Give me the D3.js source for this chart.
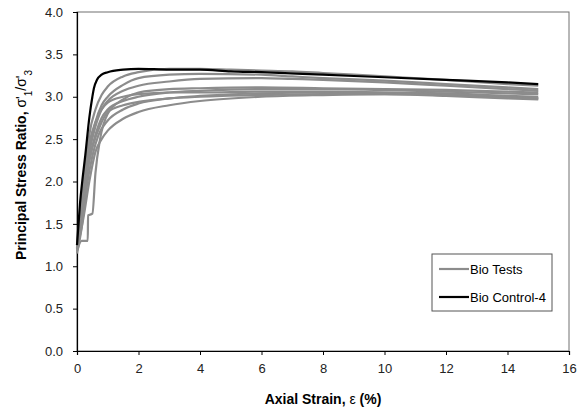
<!DOCTYPE html>
<head>
  <meta charset="utf-8">
  <title>Principal Stress Ratio</title>
  <script src="https://cdn.jsdelivr.net/npm/d3@7"></script>
  <style>
  body { margin: 0; background: #fff; }
  text { font-family: "Liberation Sans", Arial, sans-serif; fill: #000; }
  .tick text { font-size: 13px; }
  .axis-title { font-size: 14px; font-weight: bold; }
  .legend text { font-size: 13px; }
  </style>
</head>
<body>
<script>
// strain (%) vs stress ratio
var bioTests = [
  [[0,1.22],[0.1,1.5],[0.2,1.85],[0.3,2.25],[0.4,2.55],[0.6,2.85],[0.8,3.02],[1,3.12],[1.5,3.24],[2,3.29],[3,3.33],[4,3.33],[5,3.32],[6,3.31],[7,3.3],[8,3.28],[10,3.24],[12,3.2],[14,3.15],[15,3.13]],
  [[0,1.2],[0.1,1.4],[0.2,1.7],[0.3,2.05],[0.45,2.45],[0.6,2.7],[0.8,2.9],[1,3.0],[1.5,3.14],[2,3.22],[3,3.26],[4,3.27],[6,3.26],[7,3.24],[8,3.22],[10,3.19],[12,3.15],[14,3.11],[15,3.09]],
  [[0,1.25],[0.1,1.55],[0.25,2.0],[0.4,2.35],[0.6,2.65],[0.8,2.85],[1,2.95],[1.5,3.07],[2,3.13],[3,3.18],[4,3.21],[6,3.22],[7,3.21],[8,3.2],[10,3.17],[12,3.13],[14,3.09],[15,3.07]],
  [[0,1.18],[0.15,1.3],[0.35,1.3],[0.36,1.6],[0.5,1.62],[0.6,2.1],[0.75,2.5],[1,2.8],[1.5,2.97],[2,3.05],[3,3.09],[4,3.1],[6,3.11],[8,3.1],[10,3.09],[12,3.08],[14,3.06],[15,3.05]],
  [[0,1.2],[0.1,1.4],[0.25,1.85],[0.4,2.25],[0.6,2.55],[0.8,2.75],[1,2.85],[1.5,2.95],[2,3.0],[3,3.05],[4,3.07],[6,3.09],[8,3.09],[10,3.08],[12,3.06],[14,3.04],[15,3.03]],
  [[0,1.15],[0.15,1.45],[0.3,1.9],[0.5,2.3],[0.7,2.55],[1,2.72],[1.5,2.85],[2,2.92],[3,2.98],[4,3.01],[6,3.04],[8,3.05],[10,3.05],[12,3.04],[14,3.01],[15,3.0]],
  [[0,1.2],[0.2,1.55],[0.4,2.0],[0.6,2.35],[0.8,2.5],[1,2.6],[1.5,2.74],[2,2.82],[3,2.9],[4,2.95],[6,3.0],[8,3.02],[10,3.03],[12,3.02],[14,2.99],[15,2.98]],
  [[0,1.25],[0.1,1.6],[0.25,2.1],[0.4,2.45],[0.6,2.7],[0.8,2.85],[1,2.93],[1.5,3.0],[2,3.03],[3,3.05],[4,3.05],[6,3.06],[8,3.06],[10,3.05],[12,3.03],[14,3.0],[15,2.98]],
  [[0,1.22],[0.1,1.5],[0.3,2.05],[0.5,2.4],[0.8,2.7],[1,2.82],[1.5,2.9],[2,2.94],[3,2.98],[4,3.0],[6,3.02],[8,3.03],[10,3.03],[12,3.01],[14,2.98],[15,2.97]]
];
var bioControl4 = [[0,1.25],[0.05,1.5],[0.1,1.75],[0.17,2.0],[0.27,2.31],[0.4,2.75],[0.5,3.0],[0.55,3.1],[0.65,3.2],[0.8,3.26],[1,3.29],[1.5,3.32],[2,3.33],[3,3.32],[4,3.32],[5,3.3],[6,3.29],[8,3.26],[10,3.23],[12,3.2],[14,3.17],[15,3.15]];

var xTicks = [0, 2, 4, 6, 8, 10, 12, 14, 16];
var yTicks = [0, 0.5, 1, 1.5, 2, 2.5, 3, 3.5, 4];
var legendNames = ["Bio Tests", "Bio Control-4"];
var legendColors = ["#8c8c8c", "#000"];

var width = 582, height = 412;
var margin = {top: 12, right: 13, bottom: 61, left: 77};

var svg = d3.select("body").append("svg")
    .attr("width", width)
    .attr("height", height);

var x = d3.scaleLinear().domain([0, 16]).range([margin.left, width - margin.right]);
var y = d3.scaleLinear().domain([0, 4]).range([height - margin.bottom, margin.top]);

// frame (top and right)
svg.append("rect")
    .attr("x", x(0)).attr("y", y(4))
    .attr("width", x(16) - x(0)).attr("height", y(0) - y(4))
    .attr("fill", "none").attr("stroke", "#707070").attr("stroke-width", 1);

var xAxis = svg.append("g")
    .attr("transform", "translate(0," + y(0) + ")")
    .call(d3.axisBottom(x).tickValues(xTicks).tickSize(4).tickPadding(9).tickFormat(d3.format("d")));
var yAxis = svg.append("g")
    .attr("transform", "translate(" + x(0) + ",0)")
    .call(d3.axisLeft(y).tickValues(yTicks).tickSize(4).tickPadding(10).tickFormat(d3.format(".1f")));
[xAxis, yAxis].forEach(function(a) {
  a.select(".domain").attr("stroke", "#000").attr("stroke-width", 1.2);
  a.selectAll(".tick line").attr("stroke", "#000");
  a.selectAll(".tick text").attr("font-family", null).attr("font-size", null).style("fill", "#222");
});

var line = d3.line()
    .x(function(d) { return x(d[0]); })
    .y(function(d) { return y(d[1]); })
    .curve(d3.curveMonotoneX);

svg.selectAll(".bio")
    .data(bioTests)
    .enter().append("path")
    .attr("class", "bio")
    .attr("d", line)
    .attr("fill", "none")
    .attr("stroke", legendColors[0])
    .attr("stroke-width", 2.2)
    .attr("stroke-linejoin", "round");

svg.append("path")
    .datum(bioControl4)
    .attr("d", line)
    .attr("fill", "none")
    .attr("stroke", legendColors[1])
    .attr("stroke-width", 2.2)
    .attr("stroke-linejoin", "round");

// axis titles
var xt = svg.append("text")
    .attr("class", "axis-title")
    .attr("x", 323)
    .attr("y", 404)
    .attr("text-anchor", "middle");
xt.append("tspan").text("Axial Strain, ");
xt.append("tspan").attr("font-weight", "normal").text("ε");
xt.append("tspan").text(" (%)");

var yt = svg.append("text")
    .attr("class", "axis-title")
    .attr("transform", "translate(26,165) rotate(-90)")
    .attr("text-anchor", "middle");
yt.append("tspan").text("Principal Stress Ratio, ");
yt.append("tspan").attr("font-weight", "normal").text("σ'");
yt.append("tspan").attr("baseline-shift", "sub").attr("font-size", "10px").attr("font-weight", "normal").text("1");
yt.append("tspan").attr("font-weight", "normal").text("/σ'");
yt.append("tspan").attr("baseline-shift", "sub").attr("font-size", "10px").attr("font-weight", "normal").text("3");

// legend
var legend = svg.append("g").attr("class", "legend");
legend.append("rect")
    .attr("x", 432).attr("y", 254).attr("width", 120).attr("height", 57)
    .attr("fill", "#fff").attr("stroke", "#555");
var items = legend.selectAll(".item")
    .data(legendNames)
    .enter().append("g")
    .attr("transform", function(d, i) { return "translate(439," + (269 + i * 28) + ")"; });
items.append("line")
    .attr("x1", 0).attr("x2", 30)
    .attr("stroke", function(d, i) { return legendColors[i]; })
    .attr("stroke-width", 2.2);
items.append("text")
    .attr("x", 31).attr("dy", "0.35em")
    .text(function(d) { return d; });
</script>
</body>
</html>
